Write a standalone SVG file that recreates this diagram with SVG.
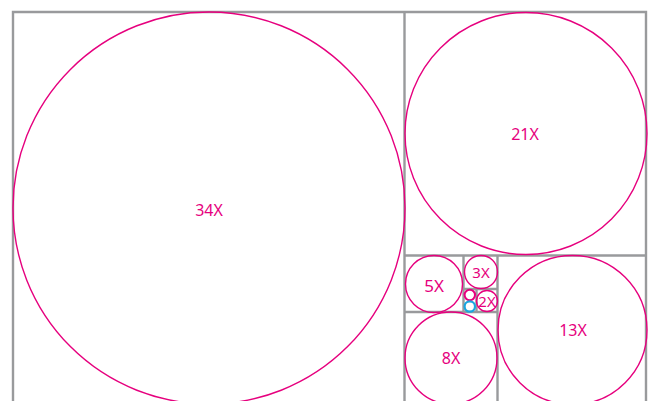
<svg xmlns="http://www.w3.org/2000/svg" width="656" height="401" viewBox="0 0 656 401">
<style>
.grid{stroke:#999a9c;stroke-width:2.4;fill:none}
.c{fill:none;stroke:#e6007e;stroke-width:1.4}
.s{stroke-width:2}
.cy{fill:none;stroke:#1aa6e0;stroke-width:2.2}
.t{fill:#e6007e;font-family:"Noto Sans","Liberation Sans",sans-serif;font-size:16px;text-anchor:middle;dominant-baseline:central}
</style>
<rect width="656" height="401" fill="#ffffff"/>
<g id="grid" class="grid">
<path d="M13,410 V12 H646 V410"/>
<path d="M404.5,12 V410"/>
<path d="M404.5,255.5 H646"/>
<path d="M497.5,255.5 V410"/>
<path d="M404.5,312 H497.5"/>
<path d="M463.5,255.5 V312"/>
<path d="M463.5,289 H497.5"/>
<path d="M476.5,289 V312"/>
</g>
<g id="n34"><circle class="c" cx="209" cy="208" r="196"/><text class="t" x="209" y="210">34X</text></g>
<g id="n21"><circle class="c" cx="526" cy="133.5" r="121"/><text class="t" x="525" y="134">21X</text></g>
<g id="n13"><circle class="c" cx="572.5" cy="330" r="74.5"/><text class="t" x="573" y="330">13X</text></g>
<g id="n8"><circle class="c" cx="451" cy="358" r="46"/><text class="t" x="451" y="358">8X</text></g>
<g id="n5"><circle class="c" cx="434" cy="284" r="28.5"/><text class="t" x="434" y="285" style="font-size:17px">5X</text></g>
<g id="n3"><circle class="c" cx="481" cy="272" r="16.5"/><text class="t" x="481" y="272" style="font-size:15px">3X</text></g>
<g id="n2"><circle class="c" cx="487" cy="301" r="10.5"/><text class="t" x="487" y="301" style="font-size:15px">2X</text></g>
<g id="n1a"><circle class="c s" cx="469.8" cy="295" r="5.2"/></g>
<g id="n1b"><circle class="cy" cx="469.8" cy="306.5" r="5.2"/></g>
</svg>
